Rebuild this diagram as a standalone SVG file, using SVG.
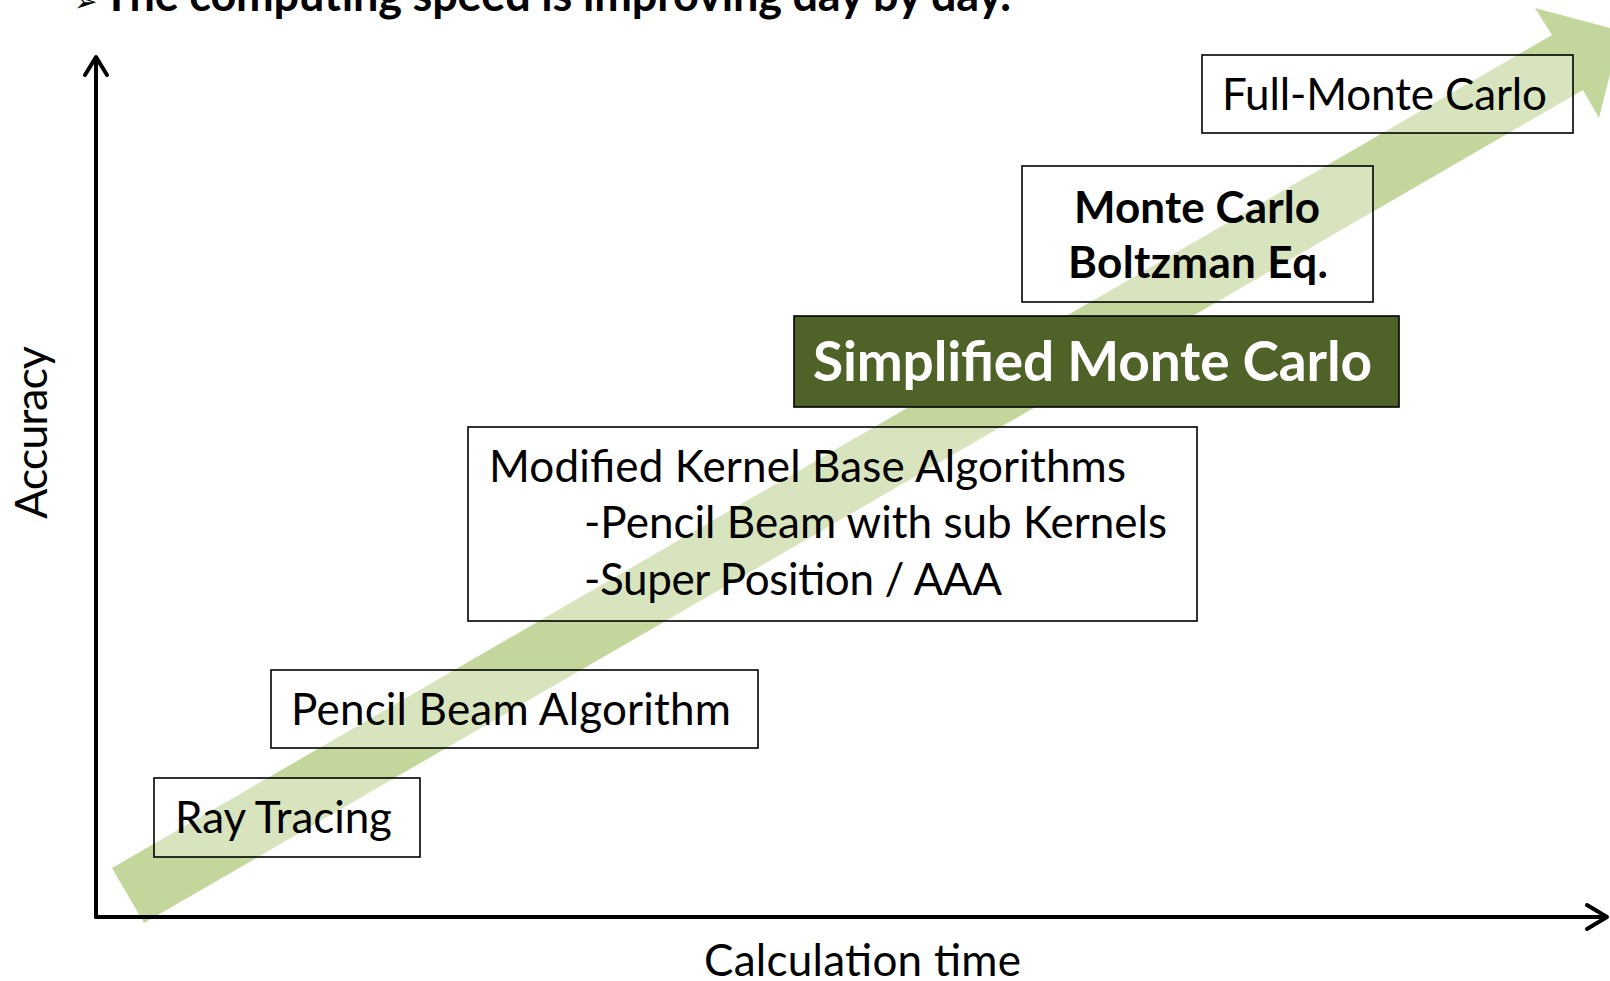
<svg xmlns="http://www.w3.org/2000/svg" width="1610" height="981" viewBox="0 0 1610 981">
  <style>
    .t { font-family: Lato, "Liberation Sans", sans-serif; fill: #000; }
    .b { font-weight: bold; }
    .box { fill: #ffffff; fill-opacity: 0.35; stroke: #000; stroke-width: 1.6; }
    .axis { stroke: #000; stroke-width: 4; fill: none; stroke-linecap: round; stroke-linejoin: round; }
  </style>
  <rect width="1610" height="981" fill="#ffffff"/>

  <g id="trend-arrow">
    <polygon points="112,868 1552,35 1535,8 1621,31 1599,118 1583,90 144,923" fill="#c3d69b"/>
  </g>

  <g id="connectors">
    <polyline class="axis" points="96,917 96,58"/>
    <polyline class="axis" points="85,75 96,57 107,75"/>
    <polyline class="axis" points="96,917 1605,917"/>
    <polyline class="axis" points="1587,905 1607,917 1587,929"/>
  </g>

  <g id="title">
    <text x="74" y="11" font-family="DejaVu Sans, sans-serif" font-size="28" font-weight="bold">➢</text>
    <text class="t b" x="103" y="11" font-size="45" textLength="908">The computing speed is improving day by day.</text>
  </g>

  <g id="ray-tracing">
    <rect class="box" x="154" y="778" width="266" height="79"/>
    <text class="t" x="175" y="833" font-size="44" textLength="217">Ray Tracing</text>
  </g>

  <g id="pencil-beam">
    <rect class="box" x="271" y="670" width="487" height="78"/>
    <text class="t" x="291" y="725" font-size="44" textLength="440">Pencil Beam Algorithm</text>
  </g>

  <g id="modified-kernel">
    <rect class="box" x="468" y="427" width="729" height="194"/>
    <text class="t" x="489" y="482" font-size="44" textLength="637">Modified Kernel Base Algorithms</text>
    <text class="t" x="584" y="538" font-size="44" textLength="583">-Pencil Beam with sub Kernels</text>
    <text class="t" x="584" y="595" font-size="44" textLength="418">-Super Position / AAA</text>
  </g>

  <g id="simplified-mc">
    <rect x="794" y="316" width="605" height="91" fill="#4f6228" stroke="#000" stroke-width="1.6"/>
    <text class="t b" x="813" y="381" font-size="55" textLength="559" style="fill:#ffffff">Simplified Monte Carlo</text>
  </g>

  <g id="monte-carlo-boltzman">
    <rect class="box" x="1022" y="166" width="351" height="136"/>
    <text class="t b" x="1074" y="223" font-size="44" textLength="246">Monte Carlo</text>
    <text class="t b" x="1068" y="278" font-size="44" textLength="260">Boltzman Eq.</text>
  </g>

  <g id="full-monte-carlo">
    <rect class="box" x="1202" y="55" width="371" height="78"/>
    <text class="t" x="1222" y="110" font-size="44" textLength="325">Full-Monte Carlo</text>
  </g>

  <text class="t" x="704" y="976" font-size="44" textLength="317">Calculation time</text>
  <text class="t" transform="translate(47,519) rotate(-90)" x="0" y="0" font-size="45" textLength="173">Accuracy</text>
</svg>
